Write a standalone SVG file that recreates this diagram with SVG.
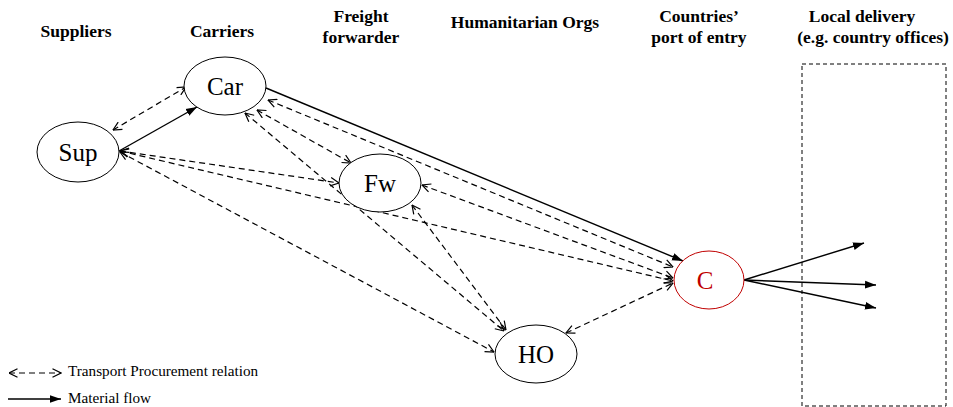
<svg xmlns="http://www.w3.org/2000/svg" width="953" height="407" viewBox="0 0 953 407">
<style>
.hdr{font-family:"Liberation Serif","Times New Roman",serif;font-weight:bold;font-size:17.5px;fill:#000;text-anchor:middle}
.lbl{font-family:"Liberation Serif","Times New Roman",serif;font-size:25px;fill:#000;text-anchor:middle}
.leg{font-family:"Liberation Serif","Times New Roman",serif;font-size:15.2px;fill:#000}
.node{fill:#fff;stroke:#000;stroke-width:1}
.dash{fill:none;stroke:#000;stroke-width:1.2;stroke-dasharray:6,4;marker-start:url(#open);marker-end:url(#open)}
.solid{fill:none;stroke:#000;stroke-width:1.4;marker-end:url(#fill)}
</style>
<defs>
<marker id="open" viewBox="0 0 10 10" refX="9.5" refY="5" markerWidth="10" markerHeight="10" markerUnits="userSpaceOnUse" orient="auto-start-reverse">
<path d="M1,0.8 L9.5,5 L1,9.2" fill="none" stroke="#000" stroke-width="1.2" stroke-dasharray="none"/>
</marker>
<marker id="fill" viewBox="0 0 10 10" refX="10" refY="5" markerWidth="11" markerHeight="11" markerUnits="userSpaceOnUse" orient="auto">
<path d="M0,1.5 L10,5 L0,8.5 z" fill="#000"/>
</marker>
</defs>
<rect width="953" height="407" fill="#fff"/>

<g id="headers">
<text class="hdr" x="76" y="37">Suppliers</text>
<text class="hdr" x="222" y="37">Carriers</text>
<text class="hdr" x="361" y="22">Freight</text>
<text class="hdr" x="361" y="43">forwarder</text>
<text class="hdr" x="525" y="28">Humanitarian Orgs</text>
<text class="hdr" x="699" y="22">Countries’</text>
<text class="hdr" x="699" y="43">port of entry</text>
<text class="hdr" x="862" y="22">Local delivery</text>
<text class="hdr" x="873" y="43">(e.g. country offices)</text>
</g>

<g id="local-delivery">
<rect x="802" y="64" width="144" height="342" fill="none" stroke="#000" stroke-width="1" stroke-dasharray="4,3"/>
</g>

<g id="connectors">
<line class="dash" x1="113" y1="130" x2="186" y2="87"/>
<line class="dash" x1="120" y1="151" x2="339" y2="183"/>
<line class="dash" x1="120" y1="151" x2="673" y2="281"/>
<line class="dash" x1="120" y1="152" x2="494" y2="352"/>
<line class="dash" x1="257" y1="110" x2="351" y2="163"/>
<line class="dash" x1="268" y1="100" x2="673" y2="267"/>
<line class="dash" x1="245" y1="113" x2="504" y2="331"/>
<line class="dash" x1="422" y1="185" x2="673" y2="278"/>
<line class="dash" x1="412" y1="205" x2="506" y2="330"/>
<line class="dash" x1="566" y1="333" x2="673" y2="283"/>
<line class="solid" x1="119" y1="151" x2="197" y2="107"/>
<line class="solid" x1="266" y1="88" x2="683" y2="261"/>
<line class="solid" x1="744" y1="280" x2="864" y2="243"/>
<line class="solid" x1="744" y1="280" x2="876" y2="285"/>
<line class="solid" x1="744" y1="280" x2="876" y2="308"/>
</g>

<g id="node-sup">
<ellipse class="node" cx="78" cy="152" rx="41" ry="30"/>
<text class="lbl" x="78" y="161">Sup</text>
</g>
<g id="node-car">
<ellipse class="node" cx="225" cy="86" rx="41" ry="29"/>
<text class="lbl" x="225" y="95">Car</text>
</g>
<g id="node-fw">
<ellipse class="node" cx="380" cy="183" rx="41" ry="29"/>
<text class="lbl" x="380" y="192">Fw</text>
</g>
<g id="node-ho">
<ellipse class="node" cx="536" cy="354" rx="41" ry="29"/>
<text class="lbl" x="536" y="363">HO</text>
</g>
<g id="node-c">
<ellipse cx="709" cy="280" rx="35" ry="29" fill="#fff" stroke="#c00000" stroke-width="1"/>
<text class="lbl" x="705" y="289" style="fill:#c00000">C</text>
</g>

<g id="legend">
<line x1="9" y1="373" x2="61" y2="373" stroke="#000" stroke-width="1.2" stroke-dasharray="6,4" marker-start="url(#open)" marker-end="url(#open)"/>
<text class="leg" x="68" y="376">Transport Procurement relation</text>
<line x1="8" y1="399" x2="61" y2="399" stroke="#000" stroke-width="1.4" marker-end="url(#fill)"/>
<text class="leg" x="68" y="403">Material flow</text>
</g>
</svg>
